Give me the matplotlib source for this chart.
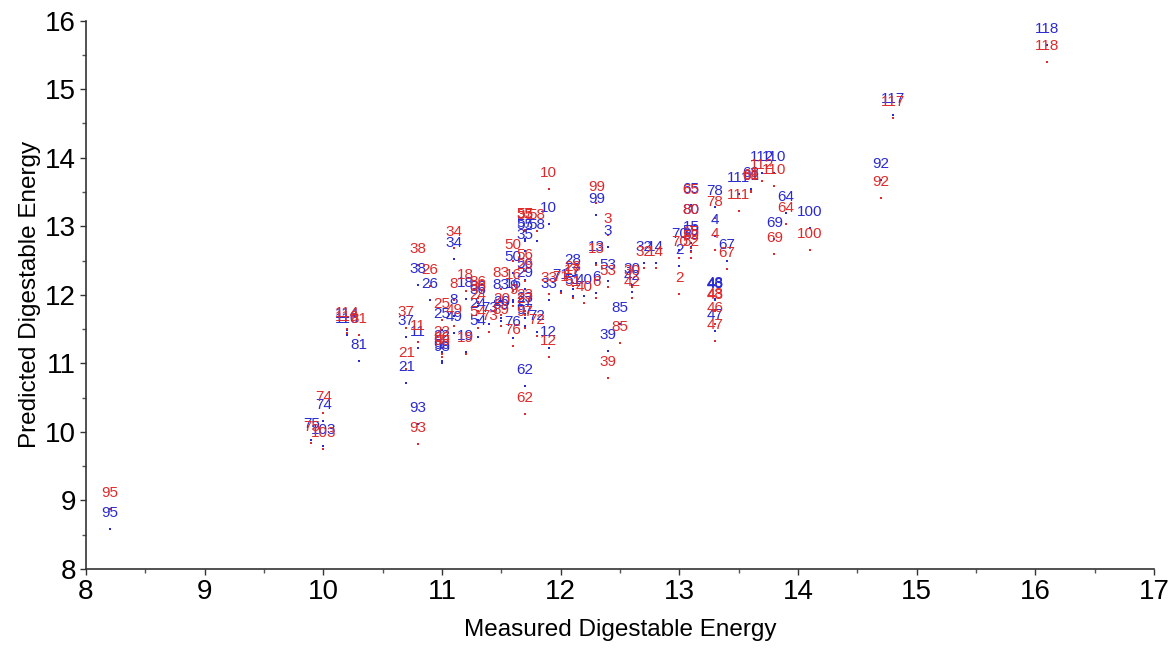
import matplotlib
matplotlib.use('Agg')
import matplotlib.pyplot as plt

# sample number, measured DE, predicted DE (blue model), predicted DE (red model)
sample_ids = [95, 75, 74, 103, 114, 116, 81, 37, 21, 11, 93, 38, 26, 25, 22, 98, 96,
              34, 8, 49, 18, 19, 36, 86, 24, 54, 73, 83, 20, 89, 16, 9, 76, 50,
              57, 55, 35, 56, 29, 23, 27, 97, 62, 58, 72, 10, 12, 33, 71, 17, 28,
              51, 40, 13, 99, 6, 3, 53, 39, 85, 30, 42, 32, 14, 70, 2, 65, 80, 15,
              59, 52, 78, 4, 43, 46, 48, 47, 67, 111, 68, 61, 112, 110, 69, 64,
              100, 92, 117, 118]
measured = [8.2, 9.9, 10.0, 10.0, 10.2, 10.2, 10.3, 10.7, 10.7, 10.8, 10.8, 10.8, 10.9,
            11.0, 11.0, 11.0, 11.0, 11.1, 11.1, 11.1, 11.2, 11.2, 11.3, 11.3, 11.3,
            11.3, 11.4, 11.5, 11.5, 11.5, 11.6, 11.6, 11.6, 11.6, 11.7, 11.7, 11.7,
            11.7, 11.7, 11.7, 11.7, 11.7, 11.7, 11.8, 11.8, 11.9, 11.9, 11.9, 12.0,
            12.1, 12.1, 12.1, 12.2, 12.3, 12.3, 12.3, 12.4, 12.4, 12.4, 12.5, 12.6,
            12.6, 12.7, 12.8, 13.0, 13.0, 13.1, 13.1, 13.1, 13.1, 13.1, 13.3, 13.3,
            13.3, 13.3, 13.3, 13.3, 13.4, 13.5, 13.6, 13.6, 13.7, 13.8, 13.8, 13.9,
            14.1, 14.7, 14.8, 16.1]
pred_blue = [8.58, 9.88, 10.16, 9.80, 11.48, 11.42, 11.04, 11.38, 10.71, 11.22, 10.12,
             12.15, 11.92, 11.49, 11.17, 11.01, 11.04, 12.52, 11.69, 11.45, 11.94,
             11.16, 11.83, 11.88, 11.64, 11.39, 11.57, 11.91, 11.66, 11.62, 11.93,
             11.90, 11.37, 12.32, 12.81, 12.78, 12.64, 12.22, 12.08, 11.72, 11.66,
             11.55, 10.67, 12.78, 11.46, 13.03, 11.23, 11.93, 12.05, 12.08, 12.27,
             11.98, 11.98, 12.46, 13.16, 12.03, 12.70, 12.20, 11.18, 11.57, 12.15,
             12.04, 12.46, 12.46, 12.66, 12.42, 13.31, 13.00, 12.76, 12.70, 12.64,
             13.28, 12.86, 11.93, 11.92, 11.94, 11.47, 12.49, 13.47, 13.54, 13.50,
             13.78, 13.78, 12.82, 13.19, 12.98, 13.67, 14.62, 15.65]
pred_red = [8.87, 9.84, 10.27, 9.75, 11.50, 11.45, 11.41, 11.51, 10.92, 11.31, 9.82,
            12.43, 12.13, 11.64, 11.23, 11.10, 11.13, 12.69, 11.93, 11.55, 12.05,
            11.14, 11.90, 11.96, 11.76, 11.52, 11.46, 12.08, 11.71, 11.54, 12.05,
            11.83, 11.26, 12.49, 12.95, 12.95, 12.93, 12.35, 12.20, 11.76, 11.70,
            11.52, 10.26, 12.93, 11.40, 13.54, 11.10, 12.01, 12.02, 12.13, 12.17,
            11.95, 11.88, 12.43, 13.34, 11.95, 12.87, 12.12, 10.78, 11.30, 12.11,
            11.96, 12.39, 12.39, 12.54, 12.01, 13.29, 13.01, 12.68, 12.62, 12.54,
            13.12, 12.66, 11.76, 11.57, 11.78, 11.32, 12.37, 13.23, 13.50, 13.52,
            13.66, 13.59, 12.59, 13.03, 12.66, 13.41, 14.58, 15.40]

blue = '#2a2ad2'
red = '#e02a2a'

plt.rcParams['font.family'] = ['Liberation Sans', 'DejaVu Sans']

fig = plt.figure(figsize=(11.76, 6.5), dpi=100)
ax = fig.add_axes([0.0731, 0.1246, 0.9082, 0.8436])


def plot_series(ys, color):
    ax.plot(measured, ys, linestyle='none', marker='s', markersize=1.6,
            markeredgewidth=0, color=color)
    for sid, x, y in zip(sample_ids, measured, ys):
        ax.annotate(str(sid), (x, y), xytext=(0, 16), textcoords='offset pixels',
                    ha='center', va='center', color=color, fontsize=11)


plot_series(pred_blue, blue)
plot_series(pred_red, red)

ax.set_xlim(8, 17)
ax.set_ylim(8, 16)
ax.set_xticks(range(8, 18))
ax.set_yticks(range(8, 17))
ax.set_xticks([x + 0.5 for x in range(8, 17)], minor=True)
ax.set_yticks([y + 0.5 for y in range(8, 16)], minor=True)
ax.tick_params(which='major', length=4, width=1, labelsize=20, pad=3, color='#333333')
ax.tick_params(which='minor', length=3, width=1, color='#555555')

for side in ['top', 'right']:
    ax.spines[side].set_visible(False)
for side in ['left', 'bottom']:
    ax.spines[side].set_color('#333333')
    ax.spines[side].set_linewidth(1.2)

ax.set_xlabel('Measured Digestable Energy', fontsize=17.5, labelpad=10)
ax.set_ylabel('Predicted Digestable Energy', fontsize=17.5, labelpad=3)

fig.savefig('out.png', dpi=100)
